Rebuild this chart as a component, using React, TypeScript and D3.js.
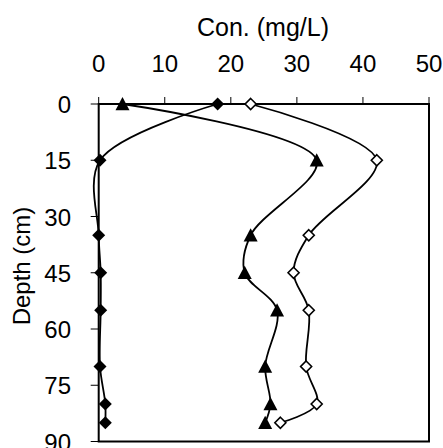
import * as d3 from "d3";

const depths = [0, 15, 35, 45, 55, 70, 80, 85];
const filledDiamond = [18, 0.2, 0, 0.3, 0.3, 0.2, 1, 1];
const filledTriangle = [3.6, 33, 23, 22.1, 27, 25.2, 26, 25.2];
const openDiamond = [23, 42.1, 31.8, 29.5, 31.8, 31.4, 33, 27.5];

const xTicks = [0, 10, 20, 30, 40, 50];
const yTicks = [0, 15, 30, 45, 60, 75, 90];

const WIDTH = 443;
const HEIGHT = 448;
const MARGIN = { top: 104, right: 14, bottom: 6.5, left: 98.7 };
const FONT = "Liberation Sans, Arial, sans-serif";

const App = () => {
  const x = d3
    .scaleLinear()
    .domain([0, 50])
    .range([MARGIN.left, WIDTH - MARGIN.right]);
  const y = d3
    .scaleLinear()
    .domain([0, 90])
    .range([MARGIN.top, HEIGHT - MARGIN.bottom]);

  // Excel-style smoothed line
  const line = d3
    .line<[number, number]>()
    .x((d) => x(d[0]))
    .y((d) => y(d[1]))
    .curve(d3.curveCatmullRom.alpha(0.5));

  const toPts = (vals: number[]) =>
    vals.map((v, i) => [v, depths[i]] as [number, number]);

  const diamond = (cx: number, cy: number, r: number) =>
    `M${cx},${cy - r}L${cx + r},${cy}L${cx},${cy + r}L${cx - r},${cy}Z`;
  const tri = (cx: number, cy: number, r: number) =>
    `M${cx},${cy - r}L${cx + r},${cy + r * 0.9}L${cx - r},${cy + r * 0.9}Z`;

  return (
    <div style={{ position: "absolute", left: 0, top: 0 }}>
      <svg width={WIDTH} height={HEIGHT} fontFamily={FONT}>
        <rect width={WIDTH} height={HEIGHT} fill="white" />
        {/* frame */}
        <rect
          x={x(0)}
          y={y(0)}
          width={x(50) - x(0)}
          height={y(90) - y(0)}
          fill="none"
          stroke="black"
          strokeWidth={2}
        />
        {/* top axis */}
        {xTicks.map((t) => (
          <g key={t}>
            <line x1={x(t)} x2={x(t)} y1={y(0) - 7} y2={y(0)} stroke="black" strokeWidth={1} />
            <text x={x(t)} y={72} textAnchor="middle" fontSize={24}>
              {t}
            </text>
          </g>
        ))}
        <text x={263} y={36} textAnchor="middle" fontSize={25}>
          Con. (mg/L)
        </text>
        {/* left axis */}
        {yTicks.map((t) => (
          <g key={t}>
            <line x1={x(0) - 8} x2={x(0)} y1={y(t)} y2={y(t)} stroke="black" strokeWidth={1} />
            <text x={71} y={y(t) + 9} textAnchor="end" fontSize={24}>
              {t}
            </text>
          </g>
        ))}
        <text
          transform={`translate(30,${266}) rotate(-90)`}
          textAnchor="middle"
          fontSize={24}
        >
          Depth (cm)
        </text>
        {/* series */}
        {[filledDiamond, filledTriangle, openDiamond].map((s, i) => (
          <path key={i} d={line(toPts(s)) ?? ""} fill="none" stroke="black" strokeWidth={1.8} />
        ))}
        {toPts(filledDiamond).map((p, i) => (
          <path key={"d" + i} d={diamond(x(p[0]), y(p[1]), 6.5)} fill="black" />
        ))}
        {toPts(filledTriangle).map((p, i) => (
          <path key={"t" + i} d={tri(x(p[0]), y(p[1]), 7)} fill="black" />
        ))}
        {toPts(openDiamond).map((p, i) => (
          <path
            key={"o" + i}
            d={diamond(x(p[0]), y(p[1]), 5.5)}
            fill="white"
            stroke="black"
            strokeWidth={1.6}
          />
        ))}
      </svg>
    </div>
  );
};

export default App;
